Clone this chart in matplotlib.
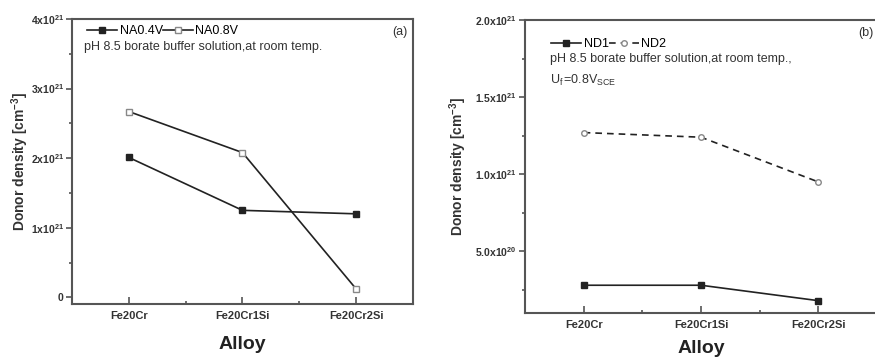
import matplotlib
matplotlib.use("Agg")
import matplotlib.pyplot as plt

plt.rcParams['font.family'] = ['Liberation Sans', 'DejaVu Sans']
plt.rcParams['mathtext.fontset'] = 'custom'
plt.rcParams['mathtext.rm'] = 'Liberation Sans'
plt.rcParams['mathtext.it'] = 'Liberation Sans:italic'
plt.rcParams['mathtext.bf'] = 'Liberation Sans:bold'

alloys = ["Fe20Cr", "Fe20Cr1Si", "Fe20Cr2Si"]
na04 = [2.01e21, 1.25e21, 1.20e21]
na08 = [2.67e21, 2.08e21, 0.12e21]
nd1 = [0.28e21, 0.28e21, 0.18e21]
nd2 = [1.27e21, 1.24e21, 0.95e21]

yticks_a = [0, 1e21, 2e21, 3e21, 4e21]
ylabels_a = ["0", r"1x10$^{\mathbf{21}}$", r"2x10$^{\mathbf{21}}$", r"3x10$^{\mathbf{21}}$", r"4x10$^{\mathbf{21}}$"]
yticks_b = [5e20, 1.0e21, 1.5e21, 2.0e21]
ylabels_b = [r"5.0x10$^{\mathbf{20}}$", r"1.0x10$^{\mathbf{21}}$", r"1.5x10$^{\mathbf{21}}$", r"2.0x10$^{\mathbf{21}}$"]

W, H = 875, 360
fig = plt.figure(figsize=(W/100, H/100), dpi=100)
lc = '#222222'
sc = '#555555'

def style(ax, yt, yl, yminor):
    x = range(len(alloys))
    ax.set_xlim(-0.5, 2.5)
    ax.set_xticks(list(x))
    ax.set_xticklabels(alloys, fontsize=8, fontweight='bold', color='#333333')
    ax.set_xticks([0.5, 1.5], minor=True)
    ax.set_yticks(yt)
    ax.set_yticklabels(yl, fontsize=7.5, fontweight='bold', color='#333333')
    ax.set_yticks(yminor, minor=True)
    ax.tick_params(axis='x', which='both', direction='in', color=sc, width=1.2)
    ax.tick_params(axis='x', which='major', length=5, pad=5)
    ax.tick_params(axis='x', which='minor', length=2.5)
    ax.tick_params(axis='y', which='both', direction='out', color=sc, width=1.2)
    ax.tick_params(axis='y', which='major', length=4, pad=2)
    ax.tick_params(axis='y', which='minor', length=2)
    for s in ax.spines.values():
        s.set_color(sc)
        s.set_linewidth(1.5)
    ax.set_ylabel(r"Donor density [cm$^{\mathbf{-3}}$]", fontsize=10, fontweight='bold', color='#333333')
    ax.set_xlabel("Alloy", fontsize=14, fontweight='bold', color='#222222')

# Panel (a)
ax1 = fig.add_axes([72/W, 1-304/H, (413-72)/W, (304-19)/H])
x = range(len(alloys))
ax1.plot(x, na04, '-', color=lc, lw=1.2, marker='s', ms=4.5, mfc=lc, mec=lc, label='NA0.4V')
ax1.plot(x, na08, '-', color=lc, lw=1.2, marker='s', ms=4.5, mfc='white', mec='#888888', label='NA0.8V')
ax1.set_ylim(-0.096e21, 4e21)
style(ax1, yticks_a, ylabels_a, [0.5e21, 1.5e21, 2.5e21, 3.5e21])
ax1.yaxis.set_label_coords(-0.12, 0.5)
ax1.xaxis.labelpad = 11
ax1.legend(loc='upper left', ncol=2, frameon=False, fontsize=9, handlelength=2.4,
           handletextpad=0.2, columnspacing=0.0, borderaxespad=0.0,
           bbox_to_anchor=(0.03, 0.995))
ax1.text(0.035, 0.903, "pH 8.5 borate buffer solution,at room temp.", transform=ax1.transAxes,
         fontsize=9, color='#333333', va='center', ha='left')
ax1.text(0.985, 0.955, "(a)", transform=ax1.transAxes, fontsize=9, color='#333333', va='center', ha='right')

# Panel (b)
ax2 = fig.add_axes([525/W, 1-313/H, (877-525)/W, (313-20)/H])
ax2.plot(x, nd1, '-', color=lc, lw=1.2, marker='s', ms=4.5, mfc=lc, mec=lc, label='ND1')
ax2.plot(x, nd2, '--', color=lc, lw=1.2, dashes=(4, 3), marker='o', ms=4, mfc='white', mec='#888888', label='ND2')
ax2.set_ylim(1.0e20, 2.0e21)
style(ax2, yticks_b, ylabels_b, [2.5e20, 7.5e20, 1.25e21, 1.75e21])
ax2.yaxis.set_label_coords(-0.16, 0.5)
ax2.xaxis.labelpad = 7
ax2.legend(loc='upper left', ncol=2, frameon=False, fontsize=9, handlelength=2.4,
           handletextpad=0.2, columnspacing=0.0, borderaxespad=0.0,
           bbox_to_anchor=(0.06, 0.955))
ax2.text(0.07, 0.867, "pH 8.5 borate buffer solution,at room temp.,", transform=ax2.transAxes,
         fontsize=9, color='#333333', va='center', ha='left')
ax2.text(0.07, 0.795, r"U$_{\mathrm{f}}\,$=0.8V$_{\mathrm{SCE}}$", transform=ax2.transAxes,
         fontsize=9, color='#333333', va='center', ha='left')
ax2.text(0.99, 0.956, "(b)", transform=ax2.transAxes, fontsize=9, color='#333333', va='center', ha='right')

fig.savefig("out.png", dpi=100)
